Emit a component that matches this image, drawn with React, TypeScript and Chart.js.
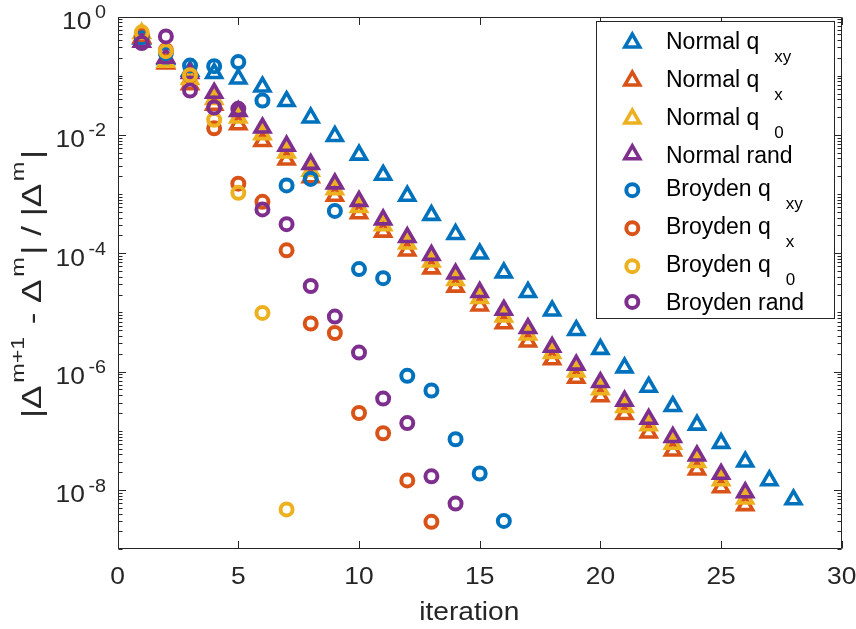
import React, { useEffect, useRef } from 'react';
import { Chart, registerables } from 'chart.js';

Chart.register(...registerables);

// ---------------- data ----------------
const iterations = [1, 2, 3, 4, 5, 6, 7, 8, 9, 10, 11, 12, 13, 14, 15, 16, 17, 18, 19, 20, 21, 22, 23, 24, 25, 26, 27, 28];

const normalQxy = [0.42, 0.19, 0.12, 0.11, 0.089, 0.065, 0.037, 0.0195, 0.0095, 0.0046, 0.0021, 9.3e-4, 4.4e-4, 2.1e-4, 9.8e-5, 4.7e-5, 2.2e-5, 1.07e-5, 5.0e-6, 2.4e-6, 1.17e-6, 5.5e-7, 2.6e-7, 1.26e-7, 6.2e-8, 3.0e-8, 1.45e-8, 6.9e-9];
const normalQx = [0.44, 0.16, 0.071, 0.032, 0.015, 0.0078, 0.0038, 0.0019, 9.3e-4, 4.7e-4, 2.3e-4, 1.1e-4, 5.5e-5, 2.7e-5, 1.3e-5, 6.5e-6, 3.2e-6, 1.6e-6, 7.8e-7, 3.8e-7, 1.9e-7, 9.3e-8, 4.6e-8, 2.2e-8, 1.1e-8, 5.5e-9];
const normalQ0 = [0.52, 0.17, 0.087, 0.040, 0.0195, 0.0102, 0.0050, 0.00245, 0.0012, 6.0e-4, 2.95e-4, 1.45e-4, 7.2e-5, 3.5e-5, 1.74e-5, 8.5e-6, 4.2e-6, 2.05e-6, 1.0e-6, 5.0e-7, 2.5e-7, 1.23e-7, 6.0e-8, 2.95e-8, 1.45e-8, 7.1e-9];
const normalRand = [0.37, 0.20, 0.11, 0.051, 0.025, 0.0132, 0.0065, 0.0032, 0.0015, 7.6e-4, 3.7e-4, 1.86e-4, 9.3e-5, 4.5e-5, 2.2e-5, 1.1e-5, 5.4e-6, 2.6e-6, 1.3e-6, 6.6e-7, 3.2e-7, 1.58e-7, 7.8e-8, 3.8e-8, 1.86e-8, 9.1e-9];
const broydenQxy = [0.45, 0.24, 0.148, 0.145, 0.17, 0.038, 0.0014, 0.0018, 5.2e-4, 5.4e-5, 3.8e-5, 8.5e-7, 4.8e-7, 7.2e-8, 1.9e-8, 3.0e-9];
const broydenQx = [0.50, 0.27, 0.10, 0.0129, 0.0015, 7.4e-4, 1.12e-4, 6.5e-6, 4.5e-6, 2.0e-7, 9.1e-8, 1.45e-8, 2.9e-9];
const broydenQ0 = [0.54, 0.26, 0.102, 0.018, 0.00105, 9.8e-6, 4.7e-9];
const broydenRand = [0.355, 0.46, 0.056, 0.029, 0.0275, 5.5e-4, 3.1e-4, 2.8e-5, 8.5e-6, 2.1e-6, 3.5e-7, 1.35e-7, 1.7e-8, 5.9e-9];

const seriesValues = [normalQxy, normalQx, normalQ0, normalRand, broydenQxy, broydenQx, broydenQ0, broydenRand];
const legendMain = ['Normal q', 'Normal q', 'Normal q', 'Normal rand', 'Broyden q', 'Broyden q', 'Broyden q', 'Broyden rand'];
const legendSub = ['xy', 'x', '0', '', 'xy', 'x', '0', ''];
const seriesColors = ['#0072BD', '#D95319', '#EDB120', '#7E2F8E', '#0072BD', '#D95319', '#EDB120', '#7E2F8E'];
const seriesMarkers = ['triangle', 'triangle', 'triangle', 'triangle', 'circle', 'circle', 'circle', 'circle'];

const xTicks = [0, 5, 10, 15, 20, 25, 30];
const yTickExponents = [0, -2, -4, -6, -8];
const xLabel = 'iteration';

// ---------------- style ----------------
const FONT = '"Liberation Sans", Arial, Helvetica, sans-serif';
const AXIS_COLOR = '#262626';
const TRI_R = 8.5;
const TRI_W = 3.6;
const CIR_R = 6;
const CIR_W = 4.0;

function stretchText(ctx: CanvasRenderingContext2D, text: string, x: number, y: number, sx: number) {
  ctx.save();
  ctx.translate(x, y);
  ctx.scale(sx, 1);
  ctx.fillText(text, 0, 0);
  ctx.restore();
}

function drawMarker(ctx: CanvasRenderingContext2D, kind: string, x: number, y: number, color: string) {
  ctx.save();
  ctx.strokeStyle = color;
  ctx.lineJoin = 'miter';
  ctx.beginPath();
  if (kind === 'triangle') {
    ctx.lineWidth = TRI_W;
    let rad = 0;
    const step = (2 * Math.PI) / 3;
    ctx.moveTo(x + Math.sin(rad) * TRI_R, y - Math.cos(rad) * TRI_R);
    rad += step;
    ctx.lineTo(x + Math.sin(rad) * TRI_R, y - Math.cos(rad) * TRI_R);
    rad += step;
    ctx.lineTo(x + Math.sin(rad) * TRI_R, y - Math.cos(rad) * TRI_R);
    ctx.closePath();
  } else {
    ctx.lineWidth = CIR_W;
    ctx.arc(x, y, CIR_R, 0, Math.PI * 2);
  }
  ctx.stroke();
  ctx.restore();
}

const matlabPlugin = {
  id: 'matlabLook',
  beforeDraw(chart: any) {
    const { ctx, width, height } = chart;
    ctx.save();
    ctx.fillStyle = '#ffffff';
    ctx.fillRect(0, 0, width, height);
    ctx.restore();
  },
  beforeDatasetsDraw(chart: any) {
    chart.ctx.lineJoin = 'miter';
  },
  afterDatasetsDraw(chart: any) {
    const { ctx, chartArea: a, scales } = chart;
    const xs = scales.x;
    const ys = scales.y;
    const L = Math.round(a.left) + 0.5;
    const R = Math.round(a.right) - 0.5;
    const T = Math.round(a.top) + 0.5;
    const B = Math.round(a.bottom) - 0.5;

    ctx.save();
    ctx.strokeStyle = AXIS_COLOR;
    ctx.lineWidth = 1;
    ctx.beginPath();
    ctx.rect(L, T, R - L, B - T);
    // x ticks
    for (const t of xTicks) {
      const px = Math.round(xs.getPixelForValue(t)) + 0.5;
      ctx.moveTo(px, B);
      ctx.lineTo(px, B - 7.5);
      ctx.moveTo(px, T);
      ctx.lineTo(px, T + 7.5);
    }
    // y ticks (log, with minor)
    for (let e = 0; e >= -9; e--) {
      for (let k = 1; k <= 9; k++) {
        const v = k * Math.pow(10, e);
        if (v > 1.0000001 || v < 0.9999e-9) continue;
        const py = Math.round(ys.getPixelForValue(v)) + 0.5;
        const major = k === 1 && e % 2 === 0;
        const len = major ? 7.5 : 4;
        ctx.moveTo(L, py);
        ctx.lineTo(L + len, py);
        ctx.moveTo(R, py);
        ctx.lineTo(R - len, py);
      }
    }
    ctx.stroke();

    ctx.fillStyle = AXIS_COLOR;
    ctx.textBaseline = 'alphabetic';
    ctx.textAlign = 'left';
    // x tick labels
    const tickSx = 1.1;
    ctx.font = `24px ${FONT}`;
    for (const t of xTicks) {
      const px = xs.getPixelForValue(t);
      const s = String(t);
      const w = ctx.measureText(s).width * tickSx;
      stretchText(ctx, s, px - w / 2, 583.5, tickSx);
    }
    // y tick labels 10^e
    for (const e of yTickExponents) {
      const py = ys.getPixelForValue(Math.pow(10, e));
      ctx.font = `18px ${FONT}`;
      const sup = String(e);
      const supW = ctx.measureText(sup).width * tickSx;
      ctx.font = `24px ${FONT}`;
      const mainW = ctx.measureText('10').width * tickSx;
      const supRight = 106;
      const supLeft = supRight - supW;
      const mainLeft = supLeft - 3.5 - mainW;
      stretchText(ctx, '10', mainLeft, py + 12.3, tickSx);
      ctx.font = `18px ${FONT}`;
      stretchText(ctx, sup, supLeft, py + 1.5, tickSx);
    }
    // x label
    ctx.font = `26px ${FONT}`;
    const xlW = ctx.measureText(xLabel).width;
    const xlSx = 100 / xlW;
    stretchText(ctx, xLabel, 469.3 - 50, 620, xlSx);

    // y label (rotated) |Δ^{m+1} - Δ^m| / |Δ^m|
    const segs = [
      { t: '|\u0394', sup: false },
      { t: 'm+1', sup: true },
      { t: ' - \u0394', sup: false },
      { t: 'm', sup: true },
      { t: '| / |\u0394', sup: false },
      { t: 'm', sup: true },
      { t: '|', sup: false },
    ];
    const mainFont = `27px ${FONT}`;
    const supFont = `18px ${FONT}`;
    const gap = 2;
    let natural = 0;
    const widths: number[] = [];
    for (let i = 0; i < segs.length; i++) {
      ctx.font = segs[i].sup ? supFont : mainFont;
      const w = ctx.measureText(segs[i].t).width;
      widths.push(w);
      natural += w;
      if (i < segs.length - 1) natural += gap;
    }
    const target = 268;
    const s = target / natural;
    ctx.save();
    ctx.translate(41, 284);
    ctx.rotate(-Math.PI / 2);
    ctx.translate(-target / 2, 0);
    ctx.scale(s, 1);
    let cx = 0;
    for (let i = 0; i < segs.length; i++) {
      ctx.font = segs[i].sup ? supFont : mainFont;
      ctx.fillText(segs[i].t, cx, segs[i].sup ? -17 : 0);
      cx += widths[i] + gap;
    }
    ctx.restore();

    // legend
    const boxL = 596.5, boxR = 834.5, boxT = 21.5, boxB = 318.5;
    ctx.fillStyle = '#ffffff';
    ctx.fillRect(boxL, boxT, boxR - boxL, boxB - boxT);
    ctx.strokeStyle = AXIS_COLOR;
    ctx.lineWidth = 1;
    ctx.strokeRect(boxL, boxT, boxR - boxL, boxB - boxT);

    const rowH = legendSub.map((sb) => (sb ? 38 : 33.5));
    let ry = 42.7;
    for (let i = 0; i < legendMain.length; i++) {
      drawMarker(ctx, seriesMarkers[i], 632.3, ry, seriesColors[i]);
      ctx.fillStyle = '#000000';
      ctx.font = `23px ${FONT}`;
      const hasSub = !!legendSub[i];
      const base = hasSub ? ry + 6 : ry + 8.5;
      ctx.fillText(legendMain[i], 666, base);
      if (hasSub) {
        const mw = ctx.measureText(legendMain[i]).width;
        ctx.font = `17px ${FONT}`;
        ctx.fillText(legendSub[i], 666 + mw + 15, base + 13);
      }
      if (i < legendMain.length - 1) ry += (rowH[i] + rowH[i + 1]) / 2;
    }
    ctx.restore();
  },
};

export default function App() {
  const canvasRef = useRef<HTMLCanvasElement | null>(null);

  useEffect(() => {
    document.body.style.margin = '0';
    const canvas = canvasRef.current;
    if (!canvas) return;
    const datasets = seriesValues.map((vals, i) => ({
      label: legendMain[i] + (legendSub[i] ? ' ' + legendSub[i] : ''),
      data: vals.map((v, k) => ({ x: iterations[k], y: v })),
      pointStyle: seriesMarkers[i] as any,
      pointRadius: seriesMarkers[i] === 'triangle' ? TRI_R : CIR_R,
      pointHoverRadius: seriesMarkers[i] === 'triangle' ? TRI_R : CIR_R,
      borderWidth: seriesMarkers[i] === 'triangle' ? TRI_W : CIR_W,
      pointBorderWidth: seriesMarkers[i] === 'triangle' ? TRI_W : CIR_W,
      borderColor: seriesColors[i],
      pointBorderColor: seriesColors[i],
      backgroundColor: 'rgba(0,0,0,0)',
      pointBackgroundColor: 'rgba(0,0,0,0)',
      showLine: false,
      order: seriesValues.length - 1 - i,
    }));
    const chart = new Chart(canvas, {
      type: 'scatter',
      data: { datasets },
      options: {
        responsive: false,
        animation: false,
        devicePixelRatio: 1,
        events: [],
        layout: { padding: { left: 117.6, right: 14.2, top: 16.5, bottom: 79.8 } },
        scales: {
          x: { type: 'linear', min: 0, max: 30, display: false },
          y: { type: 'logarithmic', min: 1e-9, max: 1, display: false },
        },
        plugins: {
          legend: { display: false },
          tooltip: { enabled: false },
        },
      },
      plugins: [matlabPlugin],
    });
    return () => chart.destroy();
  }, []);

  return (
    <div style={{ width: 856, height: 629 }}>
      <canvas ref={canvasRef} width={856} height={629} style={{ display: 'block' }} />
    </div>
  );
}
